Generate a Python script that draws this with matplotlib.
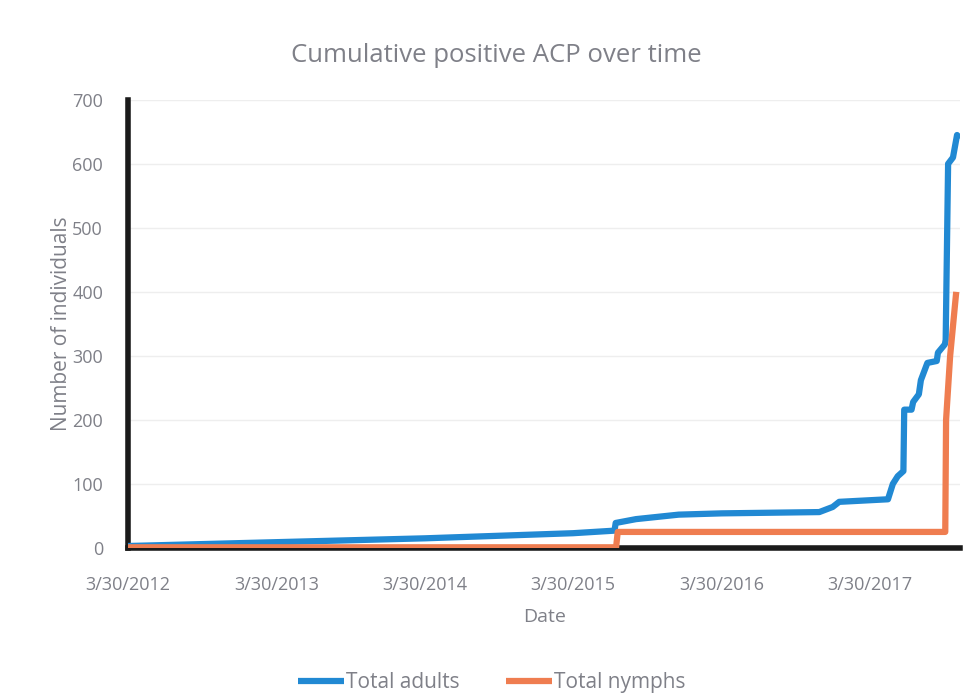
import pandas as pd
import matplotlib.pyplot as plt

# Valores (datas e contagens acumuladas)
datas_adultos = ['2012-03-30', '2013-03-30', '2014-03-30', '2015-03-30', '2015-07-10',
                 '2015-07-13', '2015-09-01', '2015-12-15', '2016-03-30', '2016-11-25',
                 '2016-12-28', '2017-01-13', '2017-05-13', '2017-05-25', '2017-06-06',
                 '2017-06-20', '2017-06-22', '2017-07-10', '2017-07-14', '2017-07-28',
                 '2017-08-02', '2017-08-18', '2017-09-10', '2017-09-13', '2017-09-30',
                 '2017-10-02', '2017-10-08', '2017-10-20', '2017-10-30', '2017-11-05']
total_adultos = [3, 9, 15, 23, 27, 39, 45, 52, 54, 56, 64, 72, 76, 100, 112,
                 120, 216, 216, 228, 240, 262, 289, 292, 305, 318, 325, 600, 610, 645, 640]

datas_ninfas = ['2012-03-30', '2015-07-14', '2015-07-18', '2017-10-01', '2017-10-03',
                '2017-10-13', '2017-10-28']
total_ninfas = [1, 1, 25, 25, 200, 300, 400]

ticks_datas = ['2012-03-30', '2013-03-30', '2014-03-30', '2015-03-30', '2016-03-30', '2017-03-30']
ticks_rotulos = ['3/30/2012', '3/30/2013', '3/30/2014', '3/30/2015', '3/30/2016', '3/30/2017']

cinza = '#7f8088'
plt.rcParams['font.family'] = ['Open Sans', 'DejaVu Sans']

fig = plt.figure(figsize=(9.7, 6.98), dpi=100)
ax = fig.add_axes([0.132, 0.215, 0.858, 0.642])

ax.plot(pd.to_datetime(datas_adultos), total_adultos, color='#2189d3', lw=4.5,
        label='Total adults', solid_capstyle='butt', zorder=3)
ax.plot(pd.to_datetime(datas_ninfas), total_ninfas, color='#ef7d50', lw=4.5,
        label='Total nymphs', solid_capstyle='butt', zorder=4)

ax.set_ylim(0, 700)
ax.set_xlim(pd.Timestamp('2012-03-30'), pd.Timestamp('2017-11-07'))
ax.set_yticks(range(0, 701, 100))
ax.set_xticks(pd.to_datetime(ticks_datas))
ax.set_xticklabels(ticks_rotulos)
ax.tick_params(length=0, colors=cinza, labelsize=13)
ax.tick_params(axis='x', pad=20)
ax.tick_params(axis='y', pad=18)
ax.grid(axis='y', color='#eeeeee', lw=1)
ax.set_axisbelow(True)

for lado in ['top', 'right']:
    ax.spines[lado].set_visible(False)
for lado in ['left', 'bottom']:
    ax.spines[lado].set_color('#1a1a1a')
    ax.spines[lado].set_linewidth(4)

fig.text(0.512, 0.92, 'Cumulative positive ACP over time', color=cinza, fontsize=18.5,
         ha='center', va='center')
ax.set_xlabel('Date', color=cinza, fontsize=14, labelpad=10)
ax.set_ylabel('Number of individuals', color=cinza, fontsize=15, labelpad=0)

leg = ax.legend(loc='center', bbox_to_anchor=(0.437, -0.3), ncol=2, frameon=False,
                fontsize=15, handlelength=2.2, handletextpad=0.1, columnspacing=2.2)
for t in leg.get_texts():
    t.set_color(cinza)

fig.savefig('out.png', dpi=100)
